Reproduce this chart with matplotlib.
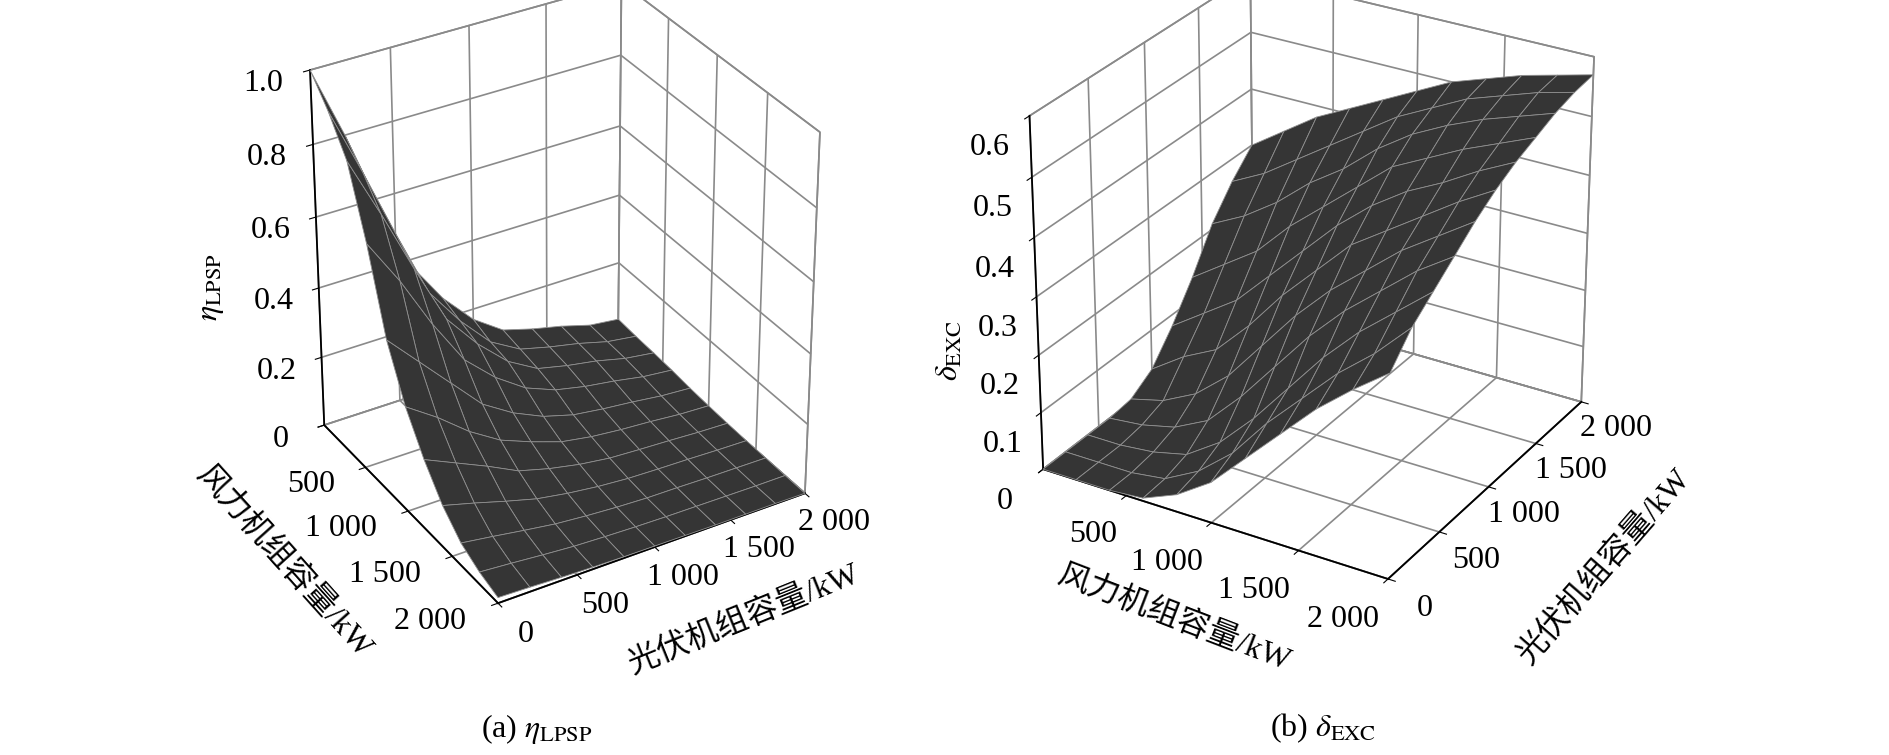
import numpy as np
import matplotlib
matplotlib.use('Agg')
import matplotlib.pyplot as plt
from mpl_toolkits.mplot3d import proj3d

plt.rcParams['font.family'] = ['Liberation Serif', 'Noto Sans CJK SC']
plt.rcParams['mathtext.fontset'] = 'stix'

# grid of capacities (kW)
wind_kw = [0, 200, 400, 600, 800, 1000, 1200, 1400, 1600, 1800, 2000]
pv_kw = [0, 200, 400, 600, 800, 1000, 1200, 1400, 1600, 1800, 2000]

# eta_LPSP, rows = wind, cols = pv
lpsp = [
    [1.00, 0.80, 0.58, 0.38, 0.26, 0.17, 0.11, 0.085, 0.065, 0.04, 0.03],
    [0.93, 0.74, 0.54, 0.35, 0.24, 0.15, 0.10, 0.078, 0.06, 0.037, 0.025],
    [0.84, 0.67, 0.49, 0.32, 0.22, 0.14, 0.09, 0.07, 0.055, 0.034, 0.022],
    [0.66, 0.53, 0.38, 0.25, 0.17, 0.11, 0.075, 0.056, 0.043, 0.027, 0.018],
    [0.44, 0.35, 0.26, 0.17, 0.115, 0.075, 0.05, 0.038, 0.029, 0.018, 0.012],
    [0.30, 0.24, 0.17, 0.115, 0.08, 0.05, 0.035, 0.026, 0.02, 0.012, 0.008],
    [0.20, 0.16, 0.12, 0.076, 0.052, 0.034, 0.022, 0.017, 0.013, 0.008, 0.005],
    [0.12, 0.096, 0.07, 0.046, 0.031, 0.02, 0.013, 0.01, 0.008, 0.005, 0.003],
    [0.065, 0.052, 0.038, 0.025, 0.017, 0.011, 0.007, 0.006, 0.004, 0.003, 0.002],
    [0.035, 0.028, 0.02, 0.013, 0.009, 0.006, 0.004, 0.003, 0.002, 0.001, 0.001],
    [0.016, 0.013, 0.009, 0.006, 0.004, 0.003, 0.002, 0.001, 0.001, 0.001, 0.0],
]

# delta_EXC, rows = wind, cols = pv
exc = [
    [0.0, 0.0, 0.0, 0.0, 0.005, 0.03, 0.08, 0.14, 0.21, 0.26, 0.30],
    [0.0, 0.0, 0.0, 0.006, 0.02, 0.07, 0.12, 0.18, 0.24, 0.29, 0.34],
    [0.0, 0.0, 0.006, 0.02, 0.05, 0.10, 0.16, 0.22, 0.28, 0.33, 0.38],
    [0.005, 0.008, 0.02, 0.05, 0.10, 0.16, 0.22, 0.28, 0.33, 0.37, 0.41],
    [0.03, 0.04, 0.06, 0.11, 0.17, 0.23, 0.28, 0.33, 0.37, 0.41, 0.44],
    [0.07, 0.09, 0.12, 0.18, 0.24, 0.29, 0.34, 0.38, 0.42, 0.45, 0.47],
    [0.13, 0.16, 0.19, 0.25, 0.30, 0.35, 0.39, 0.43, 0.46, 0.48, 0.50],
    [0.19, 0.22, 0.26, 0.31, 0.35, 0.39, 0.43, 0.46, 0.49, 0.51, 0.52],
    [0.25, 0.28, 0.32, 0.36, 0.40, 0.43, 0.46, 0.49, 0.515, 0.53, 0.54],
    [0.30, 0.33, 0.37, 0.41, 0.44, 0.47, 0.495, 0.515, 0.535, 0.55, 0.555],
    [0.345, 0.39, 0.42, 0.45, 0.48, 0.505, 0.525, 0.54, 0.555, 0.565, 0.57],
]

cap_ticks = [0, 500, 1000, 1500, 2000]
wind_labels = ['', '500', '1 000', '1 500', '2 000']
pv_labels = ['0', '500', '1 000', '1 500', '2 000']
lpsp_ticks = [0, 0.2, 0.4, 0.6, 0.8, 1.0]
lpsp_labels = ['0', '0.2', '0.4', '0.6', '0.8', '1.0']
exc_ticks = [0, 0.1, 0.2, 0.3, 0.4, 0.5, 0.6]
exc_labels = ['0', '0.1', '0.2', '0.3', '0.4', '0.5', '0.6']

FS = 23


def style_axes(ax):
    for axis in (ax.xaxis, ax.yaxis, ax.zaxis):
        axis.set_pane_color((1, 1, 1, 1))
        axis.pane.set_edgecolor('#8a8a8a')
        axis.pane.set_linewidth(1.2)
        axis.line.set_color('black')
        axis.line.set_linewidth(1.3)
        axis._axinfo['grid']['color'] = '#8a8a8a'
        axis._axinfo['grid']['linewidth'] = 1.2
        axis._axinfo['tick']['inward_factor'] = 0.25
        axis._axinfo['tick']['outward_factor'] = 0.0
        axis.set_tick_params(labelbottom=False, labeltop=False,
                             labelleft=False, labelright=False)
    ax.zaxis.set_ticks_position('lower')
    ax.tick_params(width=1.3, color='black')


def put_text(ax, x, y, z, s, **kw):
    # project a 3D point to figure coordinates and write plain 2D text there
    x2, y2, _ = proj3d.proj_transform(x, y, z, ax.get_proj())
    px, py = ax.transData.transform((x2, y2))
    fx, fy = fig.transFigure.inverted().transform((px, py))
    fig.text(fx, fy, s, fontsize=FS, **kw)


def tick_texts(ax, zticks, wind_off, pv_off, z_off):
    # MATLAB-like tick label placement
    for v, s in zip(cap_ticks, wind_labels):
        if s:
            put_text(ax, v, wind_off[0], wind_off[1], s, ha='right', va='center')
    for v, s in zip(cap_ticks, pv_labels):
        put_text(ax, 2000 + pv_off[0], v, pv_off[1], s, ha='center', va='center')
    for v, s in zip(zticks[0], zticks[1]):
        put_text(ax, z_off[0], z_off[1], v + z_off[2], s, ha='center', va='center')


fig = plt.figure(figsize=(18.9, 7.55), dpi=100)

W, P = np.meshgrid(wind_kw, pv_kw, indexing='ij')

# (a) eta_LPSP
ax1 = fig.add_axes([0.097, 0.145, 0.39, 0.93], projection='3d')
ax1.plot_surface(W, P, np.array(lpsp), color='#353535', edgecolor='#8f8f8f',
                 linewidth=0.6, shade=False, antialiased=True)
ax1.set_xlim(0, 2000)
ax1.set_ylim(0, 2000)
ax1.set_zlim(0, 1.0)
ax1.set_xticks(cap_ticks)
ax1.set_yticks(cap_ticks)
ax1.set_zticks(lpsp_ticks)
ax1.view_init(elev=32, azim=-31)
ax1.set_box_aspect((1, 1, 1.17), zoom=0.915)
style_axes(ax1)

# (b) delta_EXC
ax2 = fig.add_axes([0.4965, 0.172, 0.39, 0.93], projection='3d')
ax2.plot_surface(W, P, np.array(exc), color='#353535', edgecolor='#8f8f8f',
                 linewidth=0.6, shade=False, antialiased=True)
ax2.set_xlim(0, 2000)
ax2.set_ylim(0, 2000)
ax2.set_zlim(0, 0.6)
ax2.set_xticks(cap_ticks)
ax2.set_yticks(cap_ticks)
ax2.set_zticks(exc_ticks)
ax2.view_init(elev=27.5, azim=-59)
ax2.set_box_aspect((1, 1, 0.98), zoom=0.955)
style_axes(ax2)

# fix the layout, then place tick labels from the projected positions
fig.canvas.draw()
tick_texts(ax1, (lpsp_ticks, lpsp_labels), (-200, -0.02), (290, -0.01), (0, -285, 0.0))
tick_texts(ax2, (exc_ticks, exc_labels), (-85, -0.056), (205, -0.03), (-65, -243, -0.025))

# axis titles
fig.text(0.112, 0.62, r'$\eta_{\mathrm{LPSP}}$', fontsize=FS, rotation=90, ha='center', va='center')
fig.text(0.150, 0.255, '风力机组容量/kW', fontsize=FS, rotation=-48, ha='center', va='center')
fig.text(0.394, 0.18, '光伏机组容量/kW', fontsize=FS, rotation=22, ha='center', va='center')
fig.text(0.503, 0.535, r'$\delta_{\mathrm{EXC}}$', fontsize=FS, rotation=90, ha='center', va='center')
fig.text(0.621, 0.18, '风力机组容量/kW', fontsize=FS, rotation=-21, ha='center', va='center')
fig.text(0.849, 0.25, '光伏机组容量/kW', fontsize=FS, rotation=49, ha='center', va='center')

# captions
fig.text(0.284, 0.035, r'(a) $\eta_{\mathrm{LPSP}}$', fontsize=23, ha='center', va='center')
fig.text(0.700, 0.035, r'(b) $\delta_{\mathrm{EXC}}$', fontsize=23, ha='center', va='center')

fig.savefig('out.png', dpi=100, facecolor='white')
